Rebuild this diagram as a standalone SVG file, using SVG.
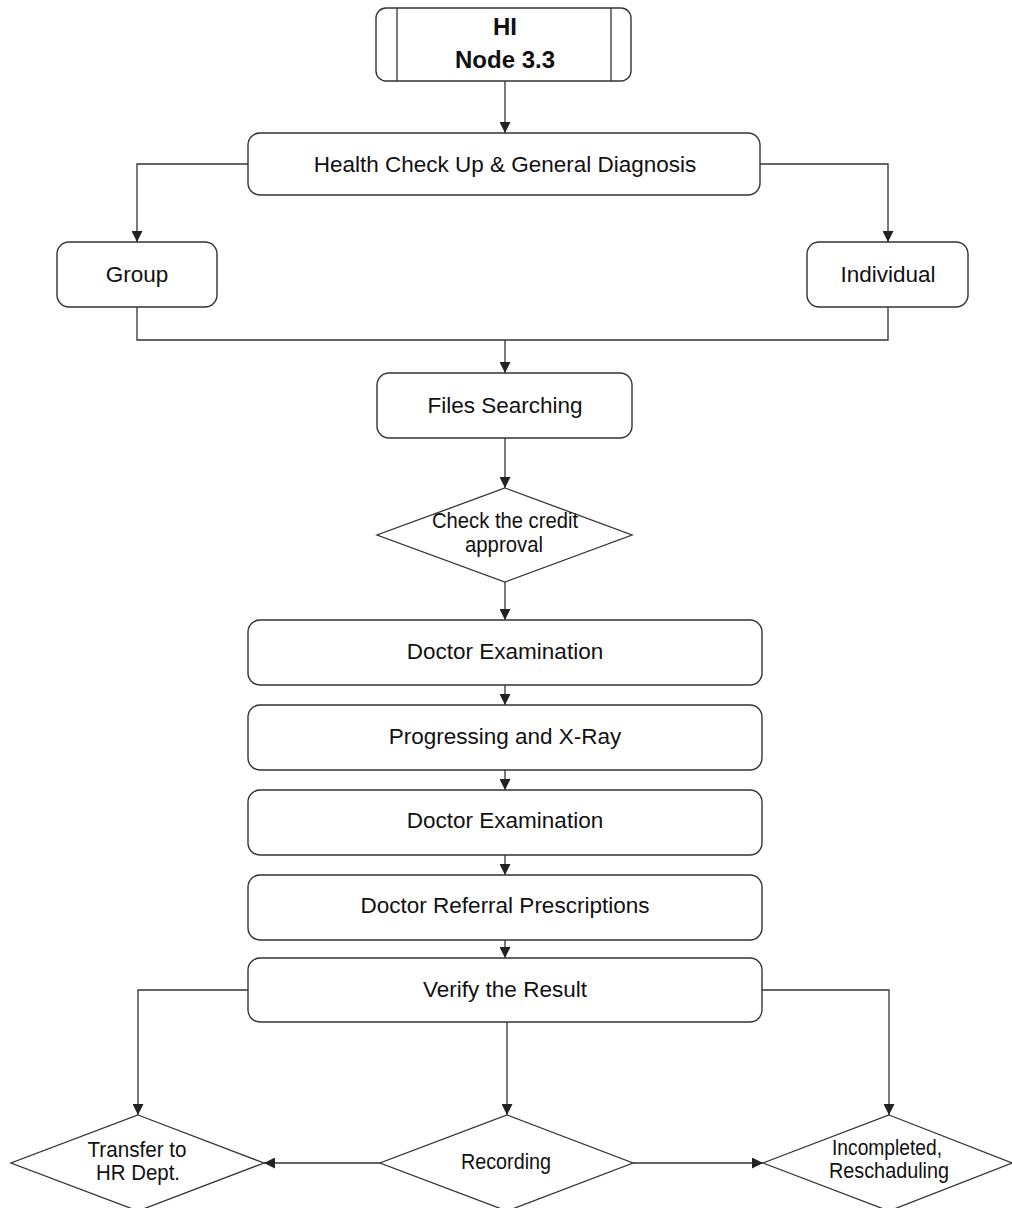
<svg xmlns="http://www.w3.org/2000/svg" width="1012" height="1208" viewBox="0 0 1012 1208">
  <style>
    .box { fill: #ffffff; stroke: #333333; stroke-width: 1.4; }
    .dec { fill: #ffffff; stroke: #333333; stroke-width: 1.3; }
    .lbl { font-family: "Liberation Sans", Arial, sans-serif; font-size: 22.5px; fill: #111111; text-anchor: middle; }
    .dlbl { font-family: "Liberation Sans", Arial, sans-serif; font-size: 22px; fill: #111111; text-anchor: middle; }
    .hdr { font-family: "Liberation Sans", Arial, sans-serif; font-size: 24px; font-weight: bold; fill: #111111; text-anchor: middle; }
    .wire { fill: none; stroke: #333333; stroke-width: 1.3; }
  </style>
  <defs>
    <marker id="arr" viewBox="0 0 10 10" refX="10" refY="5" markerWidth="11" markerHeight="11" markerUnits="userSpaceOnUse" orient="auto">
      <path d="M0,0 L10,5 L0,10 z" fill="#222222"/>
    </marker>
  </defs>
  <rect width="1012" height="1208" fill="#ffffff"/>

  <!-- connectors -->
  <g id="connectors">
    <path class="wire" d="M505,81 V133" marker-end="url(#arr)"/>
    <path class="wire" d="M248,164 H137 V242" marker-end="url(#arr)"/>
    <path class="wire" d="M760,164 H888 V242" marker-end="url(#arr)"/>
    <path class="wire" d="M137,307 V340 H888 V307"/>
    <path class="wire" d="M505,340 V373" marker-end="url(#arr)"/>
    <path class="wire" d="M505,438 V488" marker-end="url(#arr)"/>
    <path class="wire" d="M505,582 V620" marker-end="url(#arr)"/>
    <path class="wire" d="M505,685 V705" marker-end="url(#arr)"/>
    <path class="wire" d="M505,770 V790" marker-end="url(#arr)"/>
    <path class="wire" d="M505,855 V875" marker-end="url(#arr)"/>
    <path class="wire" d="M505,940 V958" marker-end="url(#arr)"/>
    <path class="wire" d="M248,990 H138 V1115" marker-end="url(#arr)"/>
    <path class="wire" d="M507,1022 V1115" marker-end="url(#arr)"/>
    <path class="wire" d="M762,990 H889 V1115" marker-end="url(#arr)"/>
    <path class="wire" d="M380,1163 H264" marker-end="url(#arr)"/>
    <path class="wire" d="M633,1163 H763" marker-end="url(#arr)"/>
  </g>

  <!-- nodes -->
  <g id="node-hi">
    <rect class="box" x="376" y="8" width="255" height="73" rx="10"/>
    <line class="wire" x1="397" y1="8" x2="397" y2="81"/>
    <line class="wire" x1="611" y1="8" x2="611" y2="81"/>
    <text class="hdr" x="505" y="35">HI</text>
    <text class="hdr" x="505" y="68">Node 3.3</text>
  </g>
  <g id="node-health">
    <rect class="box" x="248" y="133" width="512" height="62" rx="12"/>
    <text class="lbl" x="505" y="172">Health Check Up &amp; General Diagnosis</text>
  </g>
  <g id="node-group">
    <rect class="box" x="57" y="242" width="160" height="65" rx="12"/>
    <text class="lbl" x="137" y="282">Group</text>
  </g>
  <g id="node-individual">
    <rect class="box" x="807" y="242" width="161" height="65" rx="12"/>
    <text class="lbl" x="888" y="282">Individual</text>
  </g>
  <g id="node-files">
    <rect class="box" x="377" y="373" width="255" height="65" rx="12"/>
    <text class="lbl" x="505" y="413">Files Searching</text>
  </g>
  <g id="node-credit">
    <polygon class="dec" points="505,488 632,535 505,582 377,535"/>
    <text class="dlbl" x="505" y="528" textLength="146" lengthAdjust="spacingAndGlyphs">Check the credit</text>
    <text class="dlbl" x="504" y="552" textLength="78" lengthAdjust="spacingAndGlyphs">approval</text>
  </g>
  <g id="node-exam1">
    <rect class="box" x="248" y="620" width="514" height="65" rx="12"/>
    <text class="lbl" x="505" y="659">Doctor Examination</text>
  </g>
  <g id="node-xray">
    <rect class="box" x="248" y="705" width="514" height="65" rx="12"/>
    <text class="lbl" x="505" y="744">Progressing and X-Ray</text>
  </g>
  <g id="node-exam2">
    <rect class="box" x="248" y="790" width="514" height="65" rx="12"/>
    <text class="lbl" x="505" y="828">Doctor Examination</text>
  </g>
  <g id="node-referral">
    <rect class="box" x="248" y="875" width="514" height="65" rx="12"/>
    <text class="lbl" x="505" y="913">Doctor Referral Prescriptions</text>
  </g>
  <g id="node-verify">
    <rect class="box" x="248" y="958" width="514" height="64" rx="12"/>
    <text class="lbl" x="505" y="997">Verify the Result</text>
  </g>
  <g id="node-transfer">
    <polygon class="dec" points="138,1115 264,1163 138,1211 11,1163"/>
    <text class="dlbl" x="137" y="1157" textLength="99" lengthAdjust="spacingAndGlyphs">Transfer to</text>
    <text class="dlbl" x="138" y="1180" textLength="84" lengthAdjust="spacingAndGlyphs">HR Dept.</text>
  </g>
  <g id="node-recording">
    <polygon class="dec" points="507,1115 633,1163 507,1211 380,1163"/>
    <text class="dlbl" x="506" y="1169" textLength="90" lengthAdjust="spacingAndGlyphs">Recording</text>
  </g>
  <g id="node-incomplete">
    <polygon class="dec" points="889,1115 1012,1163 889,1211 763,1163"/>
    <text class="dlbl" x="887" y="1155" textLength="110" lengthAdjust="spacingAndGlyphs">Incompleted,</text>
    <text class="dlbl" x="889" y="1178" textLength="120" lengthAdjust="spacingAndGlyphs">Reschaduling</text>
  </g>
</svg>
